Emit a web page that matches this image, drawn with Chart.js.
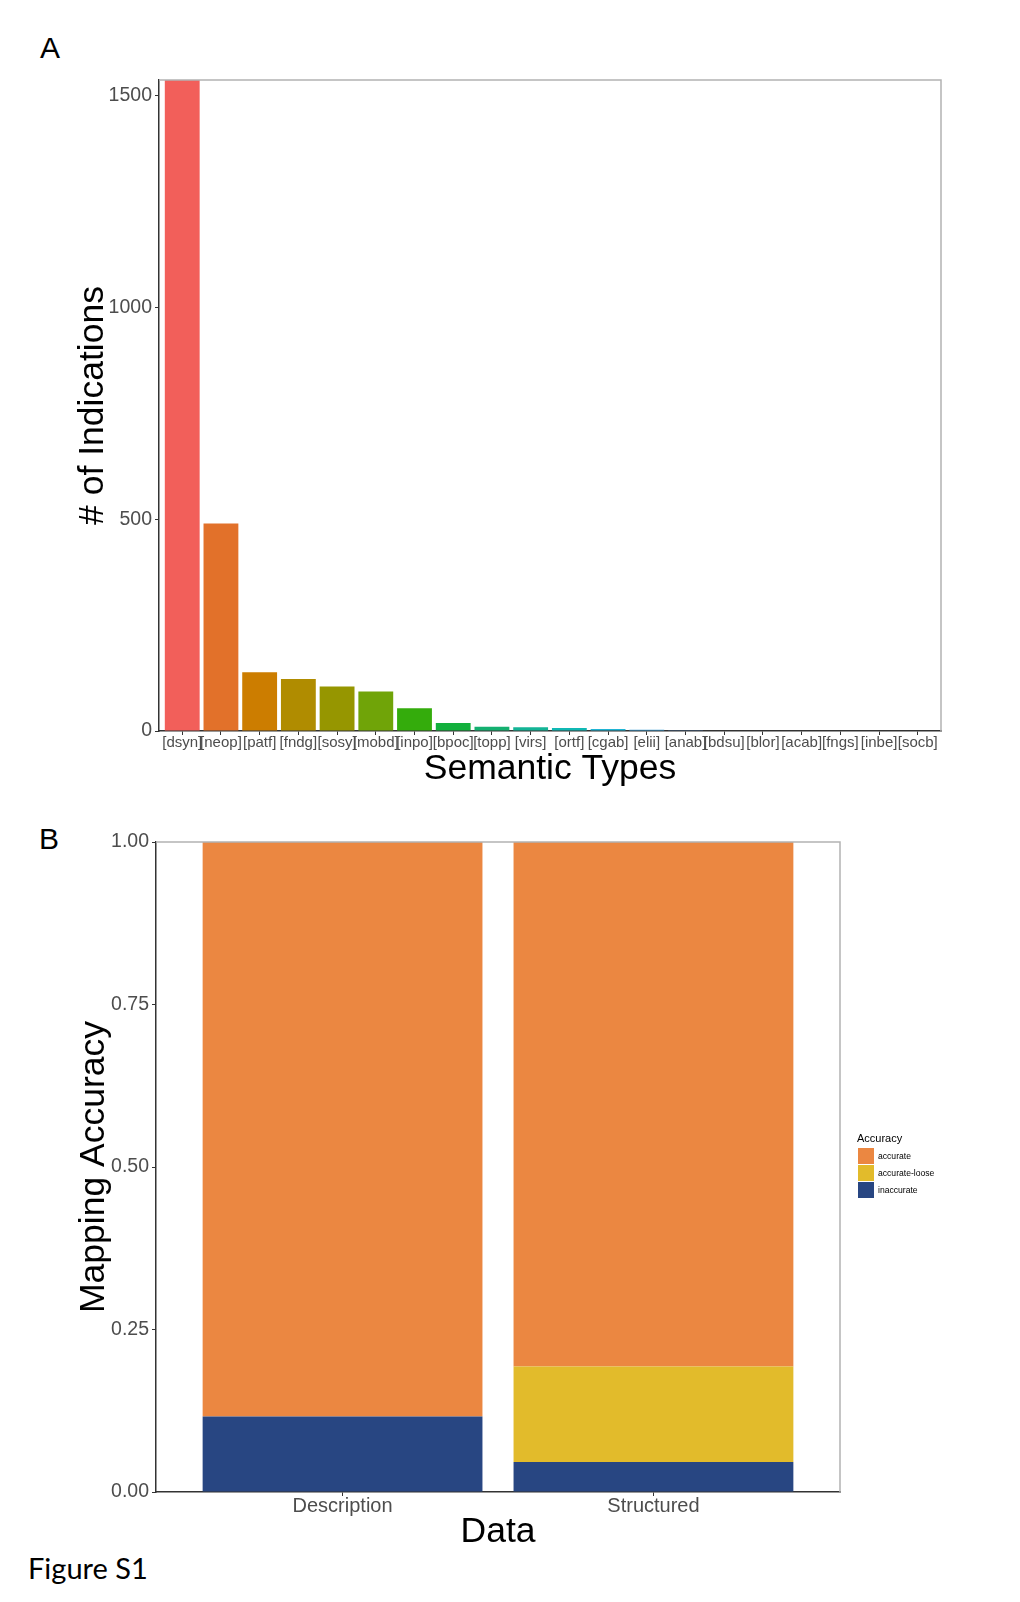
<!DOCTYPE html>
<html><head><meta charset="utf-8">
<script src="https://cdn.jsdelivr.net/npm/chart.js@4.4.1/dist/chart.umd.min.js"></script>
<style>
html,body{margin:0;padding:0;background:#fff;}
body{width:1020px;height:1602px;position:relative;overflow:hidden;}
canvas{position:absolute;left:0;}
#cA{top:0;}
#cB{top:800px;}
.lbl{position:absolute;font-family:"Liberation Sans",Arial,sans-serif;font-size:30px;line-height:30px;color:#000;}
#fig{position:absolute;font-family:Lato,"Open Sans",sans-serif;font-size:29px;line-height:29px;left:28px;top:1553px;color:#000;}
</style></head><body>
<div class="lbl" style="left:40px;top:33px">A</div>
<div class="lbl" style="left:39px;top:824px">B</div>
<div id="fig">Figure S1</div>
<canvas id="cA" width="1020" height="800" style="width:1020px;height:800px"></canvas>
<canvas id="cB" width="1020" height="802" style="width:1020px;height:802px"></canvas>
<script>
// ---- Panel A data ----
const semanticTypes = ['[dsyn]','[neop]','[patf]','[fndg]','[sosy]','[mobd]','[inpo]','[bpoc]','[topp]','[virs]','[ortf]','[cgab]','[elii]','[anab]','[bdsu]','[blor]','[acab]','[fngs]','[inbe]','[socb]'];
const indicationCounts = [1537, 490, 139, 123, 105, 93, 54, 19, 10, 9, 7, 5, 3, 2, 1, 1, 1, 1, 1, 1];
const typeColors = ['#F25F5A','#E2712A','#CC7D00','#B08C00','#969600','#70A408','#34AC0C','#13B03C','#14B070','#14B496','#10B8B4','#20B4D4','#3CA0D8','#4C82C8','#7A6EC8','#9B6ACE','#B762C8','#C85CB4','#D2609A','#DC6680'];
const countTicks = [0, 500, 1000, 1500];
const countMax = 1537;

// ---- Panel B data ----
const dataSources = ['Description', 'Structured'];
const accuracyClasses = ['inaccurate', 'accurate-loose', 'accurate'];
const inaccurateShare = [0.116, 0.046];
const looseShare = [0, 0.147];
const accurateShare = [0.884, 0.807];
const accuracyColors = ['#284682', '#E2BB2B', '#EB8741'];
const accuracyTicks = [0, 0.25, 0.5, 0.75, 1];
const legendTitle = 'Accuracy';

const FONT = '"Liberation Sans", Arial, sans-serif';
Chart.defaults.font.family = FONT;

const framePlugin = {
  id: 'frame',
  afterDraw(chart) {
    const {ctx, chartArea: a} = chart;
    ctx.save();
    ctx.strokeStyle = '#b3b3b3';
    ctx.lineWidth = 1.5;
    ctx.beginPath();
    ctx.moveTo(a.left, a.top);
    ctx.lineTo(a.right, a.top);
    ctx.lineTo(a.right, a.bottom);
    ctx.stroke();
    ctx.restore();
  }
};

function axisTicks(values) { return s => { s.ticks = values.map(v => ({value: v})); }; }

// ---- Chart A ----
new Chart(document.getElementById('cA'), {
  type: 'bar',
  data: {
    datasets: [{
      data: indicationCounts.map((v, i) => ({x: i + 1, y: v})),
      backgroundColor: typeColors,
      borderWidth: 0,
      barPercentage: 0.9,
      categoryPercentage: 1.0
    }]
  },
  options: {
    responsive: false,
    animation: false,
    devicePixelRatio: 1,
    layout: {padding: {left: 40, top: 80, right: 79, bottom: 4}},
    plugins: {legend: {display: false}, tooltip: {enabled: false}},
    scales: {
      x: {
        type: 'linear', min: 0.4, max: semanticTypes.length + 0.6, offset: false,
        afterBuildTicks: s => { s.ticks = semanticTypes.map((_, i) => ({value: i + 1})); },
        afterFit: s => { s.height = 65; },
        ticks: {autoSkip: false, maxRotation: 0, minRotation: 0, padding: -1, color: '#4d4d4d',
          font: {family: FONT, size: 15}, callback: v => semanticTypes[Math.round(v) - 1]},
        grid: {display: true, drawOnChartArea: false, drawTicks: true, tickLength: 4, color: '#333', offset: false},
        border: {display: true, color: '#333', width: 1.5},
        title: {display: true, text: 'Semantic Types', color: '#000', font: {family: FONT, size: 35.5}, padding: {top: 0, bottom: 5}}
      },
      y: {
        min: 0, max: countMax,
        afterBuildTicks: axisTicks(countTicks),
        afterFit: s => { s.width = 119; },
        ticks: {padding: 3, color: '#4d4d4d', font: {family: FONT, size: 19.5}, callback: v => String(v)},
        grid: {display: true, drawOnChartArea: false, drawTicks: true, tickLength: 4, color: '#333'},
        border: {display: true, color: '#333', width: 1.5},
        title: {display: true, text: '# of Indications', color: '#000', font: {family: FONT, size: 35.5}, padding: {top: 32, bottom: 0}}
      }
    }
  },
  plugins: [framePlugin]
});

// ---- Chart B ----
const legendPlugin = {
  id: 'accLegend',
  afterDraw(chart) {
    const ctx = chart.ctx;
    ctx.save();
    ctx.textAlign = 'left';
    ctx.textBaseline = 'middle';
    ctx.fillStyle = '#000';
    ctx.font = '11px ' + FONT;
    ctx.fillText(legendTitle, 857, 339);
    const ds = chart.data.datasets.slice().reverse();
    ds.forEach((d, i) => {
      const y = 348 + i * 17;
      ctx.fillStyle = d.backgroundColor;
      ctx.fillRect(858, y, 16, 16);
      ctx.fillStyle = '#000';
      ctx.font = '8.6px ' + FONT;
      ctx.fillText(d.label, 878, y + 8.5);
    });
    ctx.restore();
  }
};

const shares = [inaccurateShare, looseShare, accurateShare];
new Chart(document.getElementById('cB'), {
  type: 'bar',
  data: {
    datasets: accuracyClasses.map((name, k) => ({
      label: name,
      data: shares[k].map((v, i) => ({x: i + 1, y: v})),
      backgroundColor: accuracyColors[k],
      borderWidth: 0,
      barPercentage: 0.9,
      categoryPercentage: 1.0
    }))
  },
  options: {
    responsive: false,
    animation: false,
    devicePixelRatio: 1,
    layout: {padding: {left: 40, top: 42, right: 180, bottom: 47}},
    plugins: {legend: {display: false}, tooltip: {enabled: false}},
    scales: {
      x: {
        type: 'linear', stacked: true, min: 0.4, max: dataSources.length + 0.6, offset: false,
        afterBuildTicks: s => { s.ticks = dataSources.map((_, i) => ({value: i + 1})); },
        afterFit: s => { s.height = 63; },
        ticks: {autoSkip: false, maxRotation: 0, minRotation: 0, padding: -2, color: '#4d4d4d',
          font: {family: FONT, size: 20}, callback: v => dataSources[Math.round(v) - 1]},
        grid: {display: true, drawOnChartArea: false, drawTicks: true, tickLength: 4, color: '#333', offset: false},
        border: {display: true, color: '#333', width: 1.5},
        title: {display: true, text: 'Data', color: '#000', font: {family: FONT, size: 35.5}, padding: {top: 0, bottom: 1}}
      },
      y: {
        stacked: true, min: 0, max: 1,
        afterBuildTicks: axisTicks(accuracyTicks),
        afterFit: s => { s.width = 116; },
        ticks: {padding: 3, color: '#4d4d4d', font: {family: FONT, size: 19.5}, callback: v => Number(v).toFixed(2)},
        grid: {display: true, drawOnChartArea: false, drawTicks: true, tickLength: 4, color: '#333'},
        border: {display: true, color: '#333', width: 1.5},
        title: {display: true, text: 'Mapping Accuracy', color: '#000', font: {family: FONT, size: 35.5}, padding: {top: 32.6, bottom: 0}}
      }
    }
  },
  plugins: [framePlugin, legendPlugin]
});
</script>
</body></html>
